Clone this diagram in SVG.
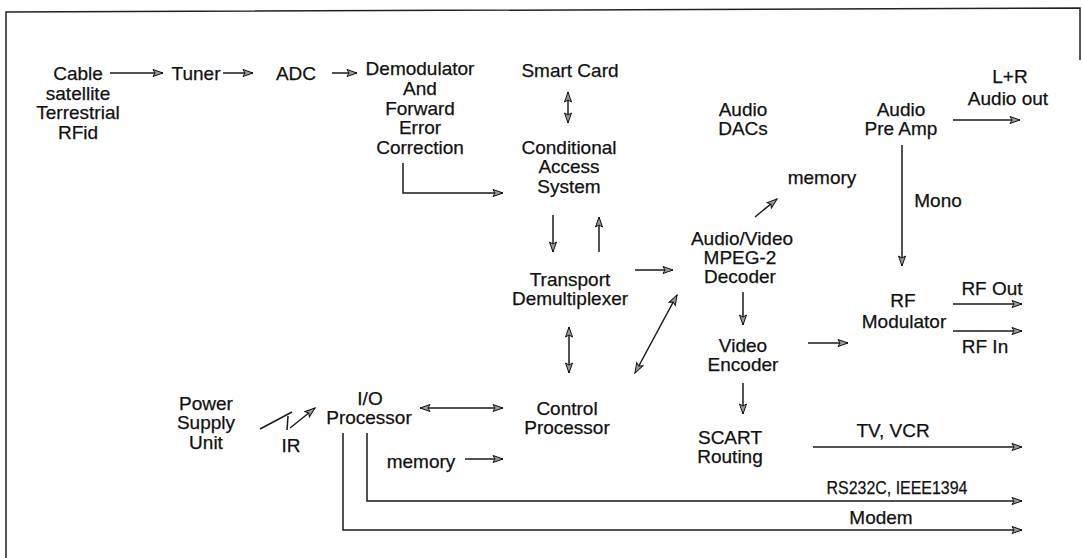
<svg xmlns="http://www.w3.org/2000/svg" width="1082" height="558" viewBox="0 0 1082 558">
<style>
text{font-family:"Liberation Sans",Arial,sans-serif;font-size:19px;fill:#111;stroke:#111;stroke-width:0.25;text-anchor:middle}
.c{fill:none;stroke:#1a1a1a;stroke-width:1.5}
.a{marker-end:url(#ah)}
.d{marker-start:url(#ah);marker-end:url(#ah)}
.frame{fill:none;stroke:#222;stroke-width:1.5}
</style>
<defs>
<marker id="ah" markerUnits="userSpaceOnUse" markerWidth="12" markerHeight="9" refX="11" refY="4.5" orient="auto-start-reverse">
<path d="M1,1 L11,4.5 L1,8 L3,4.5 z" fill="#9a9a9a" stroke="#111" stroke-width="1"/>
</marker>
</defs>
<rect width="1082" height="558" fill="#fff"/>
<path class="frame" d="M6,558 V12 L1080,8 V60"/>
<g id="connectors">
<path class="c a" d="M110,73 H163"/>
<path class="c a" d="M223,73 H253"/>
<path class="c a" d="M332,73 H357"/>
<path class="c a" d="M403,163 V193 H503"/>
<path class="c d" d="M568,92 V123"/>
<path class="c a" d="M553,215 V252"/>
<path class="c a" d="M599,252 V217"/>
<path class="c a" d="M635,270 H673"/>
<path class="c a" d="M755,217 L777,199"/>
<path class="c a" d="M743,292 V325"/>
<path class="c d" d="M569,327 V373"/>
<path class="c d" d="M635,373 L677,295"/>
<path class="c a" d="M808,343 H848"/>
<path class="c a" d="M902,145 V266"/>
<path class="c a" d="M953,120 H1020"/>
<path class="c a" d="M953,304 H1022"/>
<path class="c a" d="M953,331 H1022"/>
<path class="c a" d="M743,383 V414"/>
<path class="c a" d="M813,447 H1022"/>
<path class="c d" d="M420,408 H503"/>
<path class="c a" d="M465,459 H503"/>
<path class="c a" d="M367,433 V501 H1022"/>
<path class="c a" d="M343,433 V530 H1022"/>
<path class="c" d="M260,429 L292,412"/>
<path class="c" d="M288,416 L287,430"/>
<path class="c a" d="M290,428 L315,408"/>
</g>
<g id="source"><text x="78" y="80">Cable</text><text x="78" y="99.5">satellite</text><text x="78" y="119">Terrestrial</text><text x="78" y="138.5">RFid</text></g>
<g id="tuner"><text x="196" y="80">Tuner</text></g>
<g id="adc"><text x="296" y="80">ADC</text></g>
<g id="demod"><text x="420" y="75">Demodulator</text><text x="420" y="95">And</text><text x="420" y="115">Forward</text><text x="420" y="134">Error</text><text x="420" y="154">Correction</text></g>
<g id="smartcard"><text x="570" y="77">Smart Card</text></g>
<g id="cas"><text x="569" y="154">Conditional</text><text x="569" y="173">Access</text><text x="569" y="193">System</text></g>
<g id="dacs"><text x="743" y="116">Audio</text><text x="743" y="135">DACs</text></g>
<g id="preamp"><text x="901" y="116">Audio</text><text x="901" y="135">Pre Amp</text></g>
<g id="audioout"><text x="1010" y="83">L+R</text><text x="1008" y="105">Audio out</text></g>
<g id="memory1"><text x="822" y="184">memory</text></g>
<g id="mono"><text x="938" y="207">Mono</text></g>
<g id="decoder"><text x="742" y="245">Audio/Video</text><text x="740" y="264">MPEG-2</text><text x="740" y="283">Decoder</text></g>
<g id="transport"><text x="570" y="286">Transport</text><text x="570" y="305">Demultiplexer</text></g>
<g id="encoder"><text x="743" y="352">Video</text><text x="743" y="371">Encoder</text></g>
<g id="rfmod"><text x="903" y="307">RF</text><text x="904" y="328">Modulator</text></g>
<g id="rfout"><text x="992" y="295">RF Out</text></g>
<g id="rfin"><text x="985" y="353">RF In</text></g>
<g id="control"><text x="567" y="415">Control</text><text x="567" y="434">Processor</text></g>
<g id="io"><text x="370" y="405">I/O</text><text x="369" y="424">Processor</text></g>
<g id="psu"><text x="206" y="410">Power</text><text x="206" y="429">Supply</text><text x="206" y="449">Unit</text></g>
<g id="ir"><text x="291" y="452">IR</text></g>
<g id="memory2"><text x="421" y="468">memory</text></g>
<g id="scart"><text x="730" y="444">SCART</text><text x="730" y="463">Routing</text></g>
<g id="tvvcr"><text x="893" y="437">TV, VCR</text></g>
<g id="rs232"><text x="897" y="494" textLength="141" lengthAdjust="spacingAndGlyphs">RS232C, IEEE1394</text></g>
<g id="modem"><text x="881" y="524">Modem</text></g>
</svg>
